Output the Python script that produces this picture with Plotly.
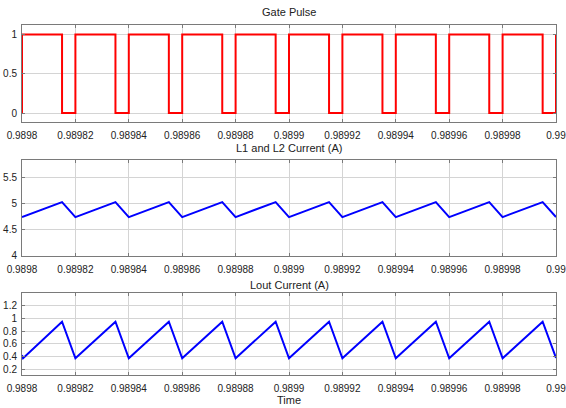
import plotly.graph_objects as go
from plotly.subplots import make_subplots

# Switching instants of the gate signal (s)
rise_times = [0.98980, 0.98982, 0.98984, 0.98986, 0.98988, 0.98990,
              0.98992, 0.98994, 0.98996, 0.98998, 0.99000]
fall_times = [0.989815, 0.989835, 0.989855, 0.989875, 0.989895,
              0.989915, 0.989935, 0.989955, 0.989975, 0.989995]

# Inductor currents at the switching instants (A)
il_valley = [4.74, 4.74, 4.74, 4.74, 4.74, 4.74, 4.74, 4.74, 4.74, 4.74, 4.74]
il_peak = [5.03, 5.03, 5.03, 5.03, 5.03, 5.03, 5.03, 5.03, 5.03, 5.03]
iout_start = 0.42
iout_valley = [0.37, 0.37, 0.37, 0.37, 0.37, 0.37, 0.37, 0.37, 0.37, 0.37, 0.375]
iout_peak = [0.95, 0.95, 0.95, 0.95, 0.95, 0.95, 0.95, 0.95, 0.95, 0.95]

x_tickvals = [0.9898, 0.98982, 0.98984, 0.98986, 0.98988, 0.9899,
              0.98992, 0.98994, 0.98996, 0.98998, 0.99]
x_ticktext = ["0.9898", "0.98982", "0.98984", "0.98986", "0.98988", "0.9899",
              "0.98992", "0.98994", "0.98996", "0.98998", "0.99"]

# Gate: step waveform built from the switching instants
gate_t, gate_v = [rise_times[0]], [0]
for i, tr in enumerate(rise_times):
    gate_t += [tr]
    gate_v += [1]
    if i < len(fall_times):
        gate_t += [fall_times[i], fall_times[i]]
        gate_v += [1, 0]
        gate_t += [rise_times[i + 1]]
        gate_v += [0]

# Triangular currents: valley at turn-on, peak at turn-off
il_t, il_v = [], []
for i, tr in enumerate(rise_times):
    il_t.append(tr)
    il_v.append(il_valley[i])
    if i < len(fall_times):
        il_t.append(fall_times[i])
        il_v.append(il_peak[i])

io_t, io_v = [rise_times[0]], [iout_start]
for i, tr in enumerate(rise_times):
    io_t.append(tr + (0.0000004 if i == 0 else 0))
    io_v.append(iout_valley[i])
    if i < len(fall_times):
        io_t.append(fall_times[i])
        io_v.append(iout_peak[i])

fig = make_subplots(rows=3, cols=1)
fig.add_trace(go.Scatter(x=gate_t, y=gate_v, mode="lines",
                         line=dict(color="#ff0000", width=2)), row=1, col=1)
fig.add_trace(go.Scatter(x=il_t, y=il_v, mode="lines",
                         line=dict(color="#0000ff", width=2)), row=2, col=1)
fig.add_trace(go.Scatter(x=io_t, y=io_v, mode="lines",
                         line=dict(color="#0000ff", width=2)), row=3, col=1)

H = 408.0
domains = [(25.3, 124), (161.7, 259), (297, 380)]
yranges = [[-0.12, 1.12], [3.99, 5.85], [0.1, 1.4]]
ytickvals = [[0, 0.5, 1], [4, 4.5, 5, 5.5], [0.2, 0.4, 0.6, 0.8, 1, 1.2]]
yticktext = [["0", "0.5", "1"], ["4", "4.5", "5", "5.5"],
             ["0.2", "0.4", "0.6", "0.8", "1", "1.2"]]

axis_style = dict(showline=True, mirror="ticks", linecolor="#7a7a7a", linewidth=1,
                  showgrid=True, gridcolor="#d4d4d4", gridwidth=1,
                  ticks="inside", ticklen=3, tickcolor="#7a7a7a",
                  zeroline=False, tickfont=dict(size=10, color="#222222"))

for i in range(3):
    n = "" if i == 0 else str(i + 1)
    top, bot = domains[i]
    fig.layout["xaxis" + n].update(range=[0.9898, 0.9900000001], tickvals=x_tickvals,
                                   ticktext=x_ticktext, ticklabelstandoff=4,
                                   ticklabeloverflow="allow", **axis_style)
    fig.layout["yaxis" + n].update(domain=[1 - bot / H, 1 - top / H],
                                   range=yranges[i], tickvals=ytickvals[i],
                                   ticktext=yticktext[i], ticklabelstandoff=2,
                                   **axis_style)

fig.layout["xaxis3"].update(title=dict(text="Time", standoff=0,
                                       font=dict(size=11, color="#222222")))

titles = [("Gate Pulse", 12), ("L1 and L2 Current (A)", 149.5), ("Lout Current (A)", 288.5)]
for text, y in titles:
    fig.add_annotation(text=text, x=0.5, xref="paper", y=1 - y / H, yref="paper",
                       showarrow=False, yanchor="middle",
                       font=dict(size=11, color="#222222"))

fig.update_layout(width=566, height=408, showlegend=False,
                  margin=dict(l=22, r=7, t=0, b=0),
                  paper_bgcolor="white", plot_bgcolor="white",
                  font=dict(family="Liberation Sans, Arial, sans-serif"))

fig.write_html("out.html")
